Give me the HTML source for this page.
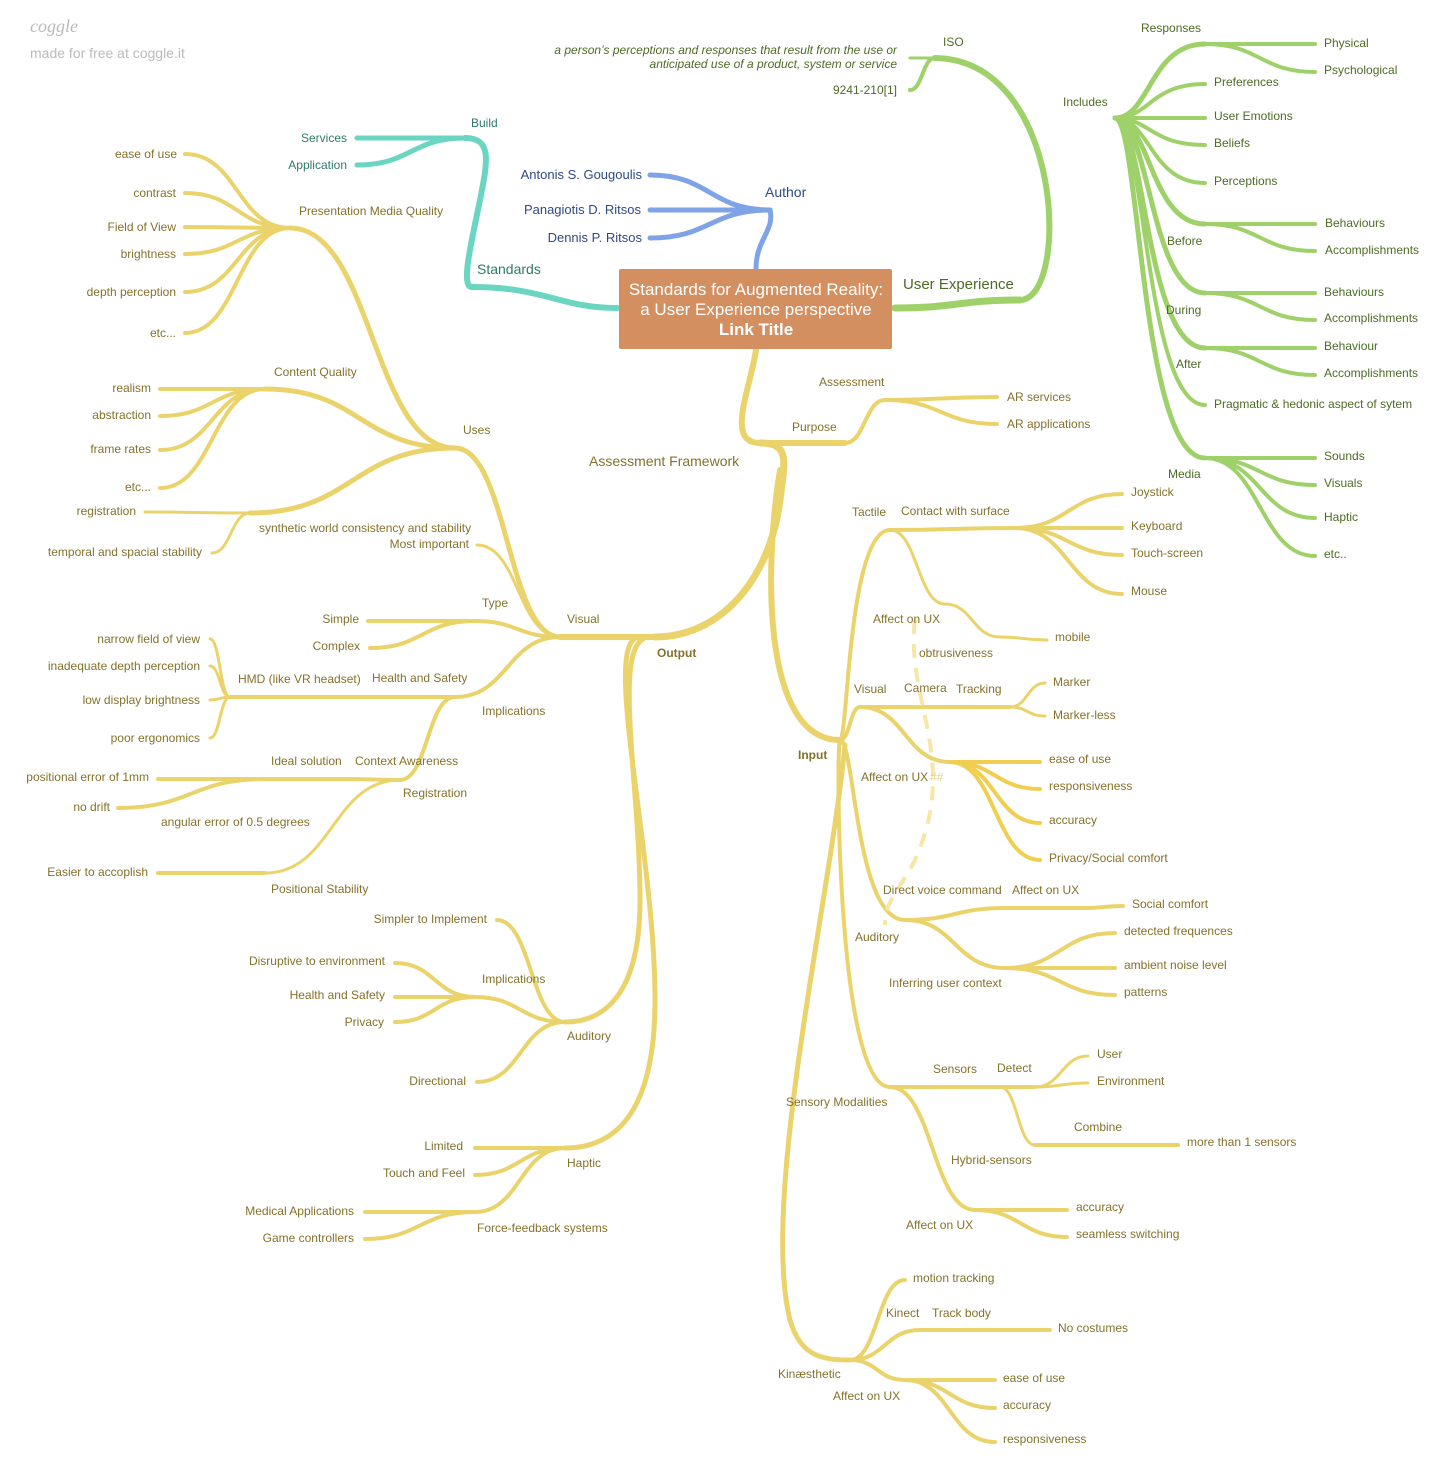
<!DOCTYPE html>
<html><head><meta charset="utf-8"><style>
html,body{margin:0;padding:0;background:#fff}
svg{display:block}
text{font-family:"Liberation Sans",sans-serif;font-size:12px}
.y{fill:#85712a}.g{fill:#4d6b24}.t{fill:#2f7a6c}.b{fill:#2e4a86}
.r{text-anchor:end}
</style></head><body>
<svg id="s" width="1450" height="1482" viewBox="0 0 1450 1482" xmlns="http://www.w3.org/2000/svg">
<g id="lines" fill="none" stroke-linecap="round"></g>
<path d="M915 620 C905 700 960 760 915 860 C900 890 885 900 885 925" fill="none" stroke="#f6e6a8" stroke-width="4" stroke-dasharray="14 10"/>
<rect x="619" y="269" width="273" height="80" rx="2" fill="#d38f5f"/>
<text x="756" y="295" text-anchor="middle" fill="#fff" style="font-size:17px">Standards for Augmented Reality:</text>
<text x="756" y="315" text-anchor="middle" fill="#fff" style="font-size:17px">a User Experience perspective</text>
<text x="756" y="335" text-anchor="middle" fill="#fff" style="font-size:17px;font-weight:bold">Link Title</text>

<text x="30" y="32" fill="#bbb" style="font-size:18px;font-style:italic;font-family:'Liberation Serif',serif">coggle</text>
<text x="30" y="58" fill="#bbb" style="font-size:14px">made for free at coggle.it</text>

<!-- green -->
<text x="903" y="289" class="g" style="font-size:15px">User Experience</text>
<text x="943" y="46" class="g">ISO</text>
<text x="897" y="54" class="g r" style="font-style:italic">a person’s perceptions and responses that result from the use or</text>
<text x="897" y="68" class="g r" style="font-style:italic">anticipated use of a product, system or service</text>
<text x="897" y="94" class="g r">9241-210[1]</text>
<text x="1063" y="106" class="g">Includes</text>
<text x="1141" y="32" class="g">Responses</text>
<text x="1324" y="47" class="g">Physical</text>
<text x="1324" y="74" class="g">Psychological</text>
<text x="1214" y="86" class="g">Preferences</text>
<text x="1214" y="120" class="g">User Emotions</text>
<text x="1214" y="147" class="g">Beliefs</text>
<text x="1214" y="185" class="g">Perceptions</text>
<text x="1325" y="227" class="g">Behaviours</text>
<text x="1325" y="254" class="g">Accomplishments</text>
<text x="1167" y="245" class="g">Before</text>
<text x="1324" y="296" class="g">Behaviours</text>
<text x="1324" y="322" class="g">Accomplishments</text>
<text x="1166" y="314" class="g">During</text>
<text x="1324" y="350" class="g">Behaviour</text>
<text x="1324" y="377" class="g">Accomplishments</text>
<text x="1176" y="368" class="g">After</text>
<text x="1214" y="408" class="g">Pragmatic &amp; hedonic aspect of sytem</text>
<text x="1168" y="478" class="g">Media</text>
<text x="1324" y="460" class="g">Sounds</text>
<text x="1324" y="487" class="g">Visuals</text>
<text x="1324" y="521" class="g">Haptic</text>
<text x="1324" y="558" class="g">etc..</text>

<!-- teal / blue -->
<text x="477" y="274" class="t" style="font-size:14px">Standards</text>
<text x="471" y="127" class="t">Build</text>
<text x="347" y="142" class="t r">Services</text>
<text x="347" y="169" class="t r">Application</text>
<text x="765" y="197" class="b" style="font-size:14px">Author</text>
<text x="642" y="179" class="b r" style="font-size:13px">Antonis S. Gougoulis</text>
<text x="641" y="214" class="b r" style="font-size:13px">Panagiotis D. Ritsos</text>
<text x="642" y="242" class="b r" style="font-size:13px">Dennis P. Ritsos</text>

<!-- yellow top -->
<text x="589" y="466" class="y" style="font-size:14px">Assessment Framework</text>
<text x="792" y="431" class="y">Purpose</text>
<text x="819" y="386" class="y">Assessment</text>
<text x="1007" y="401" class="y">AR services</text>
<text x="1007" y="428" class="y">AR applications</text>
<text x="657" y="657" class="y" style="font-weight:bold">Output</text>
<text x="798" y="759" class="y" style="font-weight:bold">Input</text>

<!-- output left -->
<text x="567" y="623" class="y">Visual</text>
<text x="463" y="434" class="y">Uses</text>
<text x="299" y="215" class="y">Presentation Media Quality</text>
<text x="177" y="158" class="y r">ease of use</text>
<text x="176" y="197" class="y r">contrast</text>
<text x="176" y="231" class="y r">Field of View</text>
<text x="176" y="258" class="y r">brightness</text>
<text x="176" y="296" class="y r">depth perception</text>
<text x="176" y="337" class="y r">etc...</text>
<text x="274" y="376" class="y">Content Quality</text>
<text x="151" y="392" class="y r">realism</text>
<text x="151" y="419" class="y r">abstraction</text>
<text x="151" y="453" class="y r">frame rates</text>
<text x="151" y="491" class="y r">etc...</text>
<text x="136" y="515" class="y r">registration</text>
<text x="202" y="556" class="y r">temporal and spacial stability</text>
<text x="259" y="532" class="y">synthetic world consistency and stability</text>
<text x="469" y="548" class="y r">Most important</text>
<text x="482" y="607" class="y">Type</text>
<text x="359" y="623" class="y r">Simple</text>
<text x="360" y="650" class="y r">Complex</text>
<text x="482" y="715" class="y">Implications</text>
<text x="372" y="682" class="y">Health and Safety</text>
<text x="238" y="683" class="y">HMD (like VR headset)</text>
<text x="200" y="643" class="y r">narrow field of view</text>
<text x="200" y="670" class="y r">inadequate depth perception</text>
<text x="200" y="704" class="y r">low display brightness</text>
<text x="200" y="742" class="y r">poor ergonomics</text>
<text x="355" y="765" class="y">Context Awareness</text>
<text x="403" y="797" class="y">Registration</text>
<text x="271" y="765" class="y">Ideal solution</text>
<text x="149" y="781" class="y r">positional error of 1mm</text>
<text x="110" y="811" class="y r">no drift</text>
<text x="161" y="826" class="y">angular error of 0.5 degrees</text>
<text x="148" y="876" class="y r">Easier to accoplish</text>
<text x="271" y="893" class="y">Positional Stability</text>
<text x="567" y="1040" class="y">Auditory</text>
<text x="487" y="923" class="y r">Simpler to Implement</text>
<text x="482" y="983" class="y">Implications</text>
<text x="385" y="965" class="y r">Disruptive to environment</text>
<text x="385" y="999" class="y r">Health and Safety</text>
<text x="384" y="1026" class="y r">Privacy</text>
<text x="466" y="1085" class="y r">Directional</text>
<text x="567" y="1167" class="y">Haptic</text>
<text x="463" y="1150" class="y r">Limited</text>
<text x="465" y="1177" class="y r">Touch and Feel</text>
<text x="477" y="1232" class="y">Force-feedback systems</text>
<text x="354" y="1215" class="y r">Medical Applications</text>
<text x="354" y="1242" class="y r">Game controllers</text>

<!-- input right -->
<text x="852" y="516" class="y">Tactile</text>
<text x="901" y="515" class="y">Contact with surface</text>
<text x="1131" y="496" class="y">Joystick</text>
<text x="1131" y="530" class="y">Keyboard</text>
<text x="1131" y="557" class="y">Touch-screen</text>
<text x="1131" y="595" class="y">Mouse</text>
<text x="873" y="623" class="y">Affect on UX</text>
<text x="919" y="657" class="y">obtrusiveness</text>
<text x="1055" y="641" class="y">mobile</text>
<text x="854" y="693" class="y">Visual</text>
<text x="904" y="692" class="y">Camera</text>
<text x="956" y="693" class="y">Tracking</text>
<text x="1053" y="686" class="y">Marker</text>
<text x="1053" y="719" class="y">Marker-less</text>
<text x="861" y="781" class="y">Affect on UX</text>
<text x="930" y="781" style="fill:#e6d48a">##</text>
<text x="1049" y="763" class="y">ease of use</text>
<text x="1049" y="790" class="y">responsiveness</text>
<text x="1049" y="824" class="y">accuracy</text>
<text x="1049" y="862" class="y">Privacy/Social comfort</text>
<text x="883" y="894" class="y">Direct voice command</text>
<text x="1012" y="894" class="y">Affect on UX</text>
<text x="1132" y="908" class="y">Social comfort</text>
<text x="855" y="941" class="y">Auditory</text>
<text x="1124" y="935" class="y">detected frequences</text>
<text x="1124" y="969" class="y">ambient noise level</text>
<text x="1124" y="996" class="y">patterns</text>
<text x="889" y="987" class="y">Inferring user context</text>
<text x="933" y="1073" class="y">Sensors</text>
<text x="997" y="1072" class="y">Detect</text>
<text x="1097" y="1058" class="y">User</text>
<text x="1097" y="1085" class="y">Environment</text>
<text x="786" y="1106" class="y">Sensory Modalities</text>
<text x="1074" y="1131" class="y">Combine</text>
<text x="1187" y="1146" class="y">more than 1 sensors</text>
<text x="951" y="1164" class="y">Hybrid-sensors</text>
<text x="1076" y="1211" class="y">accuracy</text>
<text x="1076" y="1238" class="y">seamless switching</text>
<text x="906" y="1229" class="y">Affect on UX</text>
<text x="913" y="1282" class="y">motion tracking</text>
<text x="886" y="1317" class="y">Kinect</text>
<text x="932" y="1317" class="y">Track body</text>
<text x="1058" y="1332" class="y">No costumes</text>
<text x="778" y="1378" class="y">Kinæsthetic</text>
<text x="833" y="1400" class="y">Affect on UX</text>
<text x="1003" y="1382" class="y">ease of use</text>
<text x="1003" y="1409" class="y">accuracy</text>
<text x="1003" y="1443" class="y">responsiveness</text>
</svg>
<script>
var Y="#ebd36b",G="#9fd16a",T="#6ad6c2",B="#7ea3e6";
var E=[
[895,308,1020,300,7,G],[1115,118,1205,44,5,G,1150],[1205,44,1315,44,4,G],[1205,44,1315,72,4,G],
[1115,118,1205,84,4,G,1150],[1115,118,1205,118,4,G,1150],[1115,118,1205,145,4,G,1150],[1115,118,1205,183,4,G,1150],
[1115,118,1205,224,5,G,1150],[1205,224,1315,224,4,G],[1205,224,1315,251,4,G],
[1115,118,1205,293,5,G,1150],[1205,293,1315,293,4,G],[1205,293,1315,320,4,G],
[1115,118,1205,348,5,G,1145],[1205,348,1315,348,4,G],[1205,348,1315,375,4,G],
[1115,118,1205,405,4,G,1145],[1115,118,1205,458,5,G,1140],[1205,458,1315,458,4,G],[1205,458,1315,485,4,G],[1205,458,1315,518,4,G],[1205,458,1315,556,4,G],
[935,58,910,90,4,G],[935,58,910,58,3,G],
[465,138,357,138,5,T],[465,138,357,165,5,T],
[770,210,650,175,5,B],[770,210,650,210,5,B],[770,210,650,238,5,B],
[760,443,845,443,6,Y],[845,443,885,400,4,Y],[885,400,997,397,4,Y],[885,400,997,424,4,Y],
[655,637,560,637,6,Y],[560,637,455,448,5,Y],[455,448,290,228,5,Y],
[290,228,185,154,4,Y],[290,228,185,193,4,Y],[290,228,185,227,4,Y],[290,228,185,254,4,Y],[290,228,185,292,4,Y],[290,228,185,333,4,Y],
[455,448,265,389,5,Y],[265,389,160,389,4,Y],[265,389,160,416,4,Y],[265,389,160,450,4,Y],[265,389,160,488,4,Y],
[455,448,250,513,5,Y],[250,513,145,512,3,Y],[250,513,212,553,3,Y],[560,637,477,545,3,Y],
[560,637,475,621,4,Y],[475,621,368,621,4,Y],[475,621,370,648,4,Y],
[560,637,455,697,4,Y],[455,697,365,697,4,Y],[365,697,230,697,4,Y],
[230,697,210,639,3,Y],[230,697,210,666,3,Y],[230,697,210,700,3,Y],[230,697,210,738,3,Y],
[455,697,400,780,4,Y],[400,780,345,779,4,Y],[345,779,265,779,4,Y],[265,779,158,779,4,Y],[265,779,118,808,4,Y],
[400,780,265,873,3,Y],[265,873,158,873,4,Y],
[565,1022,475,997,4,Y],[475,997,395,963,4,Y],[475,997,395,997,4,Y],[475,997,395,1022,4,Y],[565,1022,497,920,4,Y],[565,1022,477,1082,4,Y],
[565,1148,475,1148,4,Y],[565,1148,475,1175,4,Y],[565,1148,475,1212,4,Y],[475,1212,365,1212,4,Y],[475,1212,365,1239,4,Y],
[840,740,890,530,4,Y,848],[890,530,1015,528,4,Y],[1015,528,1122,494,4,Y],[1015,528,1122,528,4,Y],[1015,528,1122,555,4,Y],[1015,528,1122,594,4,Y],
[890,530,945,604,3,Y],[945,604,1000,637,3,Y],[1000,637,1047,640,3,Y],
[840,740,860,707,4,Y],[860,707,950,707,4,Y],[950,707,1010,707,4,Y],[1010,707,1045,683,3,Y],[1010,707,1045,716,3,Y],
[860,707,950,762,4,Y],[950,762,1040,762,4,"#f0cf50"],[950,762,1040,789,4,"#f0cf50"],[950,762,1040,823,4,"#f0cf50"],[950,762,1040,860,4,"#f0cf50"],
[840,740,905,920,4,Y,855],[905,920,1005,908,4,Y],[1005,908,1085,908,4,Y],[1085,908,1123,906,4,Y],
[905,920,1005,968,4,Y],[1005,968,1115,933,4,Y],[1005,968,1115,968,4,Y],[1005,968,1115,995,4,Y],
[840,740,890,1087,4,Y,836],[890,1087,980,1087,4,Y],[980,1087,1035,1087,4,Y],[1035,1087,1088,1056,3,Y],[1035,1087,1088,1083,3,Y],
[1000,1087,1035,1145,3,Y],[1035,1145,1125,1145,4,Y],[1125,1145,1178,1145,4,Y],
[890,1087,975,1210,4,Y],[975,1210,1067,1210,4,Y],[975,1210,1067,1237,4,Y],
[850,1360,905,1280,4,Y],[850,1360,920,1330,4,Y],[920,1330,1050,1330,4,Y],
[850,1360,905,1380,4,Y],[905,1380,995,1380,4,Y],[905,1380,995,1408,4,Y],[905,1380,995,1442,4,Y]
];
var C=[
["M1020 300 C1070 300 1065 60 935 58",6,G],
["M617 308 C560 308 545 287 472 287 C460 287 472 240 480 200 C488 160 492 138 465 138",6,T],
["M756 268 C756 240 775 230 770 210",5,B],
["M756 350 C750 390 725 443 760 443",6,Y],
["M760 443 C790 443 785 460 780 500 C770 580 720 637 655 637",7,Y],
["M780 470 C765 560 760 740 840 740",6,Y],
["M650 637 C610 637 640 780 640 900 C640 1000 600 1022 565 1022",5,Y],
["M640 637 C600 637 655 850 655 1000 C655 1120 610 1148 565 1148",5,Y],
["M845 745 C830 900 760 1200 790 1320 C800 1355 820 1360 850 1360",5,Y]
];
var g=document.getElementById("lines"),ns="http://www.w3.org/2000/svg";
function add(d,w,c){var p=document.createElementNS(ns,"path");p.setAttribute("d",d);p.setAttribute("stroke",c);p.setAttribute("stroke-width",w);g.appendChild(p);}
C.forEach(function(a){add(a[0],a[1],a[2]);});
E.forEach(function(e){var m=e.length>6?e[6]:(e[0]+e[2])/2;add("M"+e[0]+" "+e[1]+" C"+m+" "+e[1]+" "+m+" "+e[3]+" "+e[2]+" "+e[3],e[4],e[5]);});
</script>
</body></html>
